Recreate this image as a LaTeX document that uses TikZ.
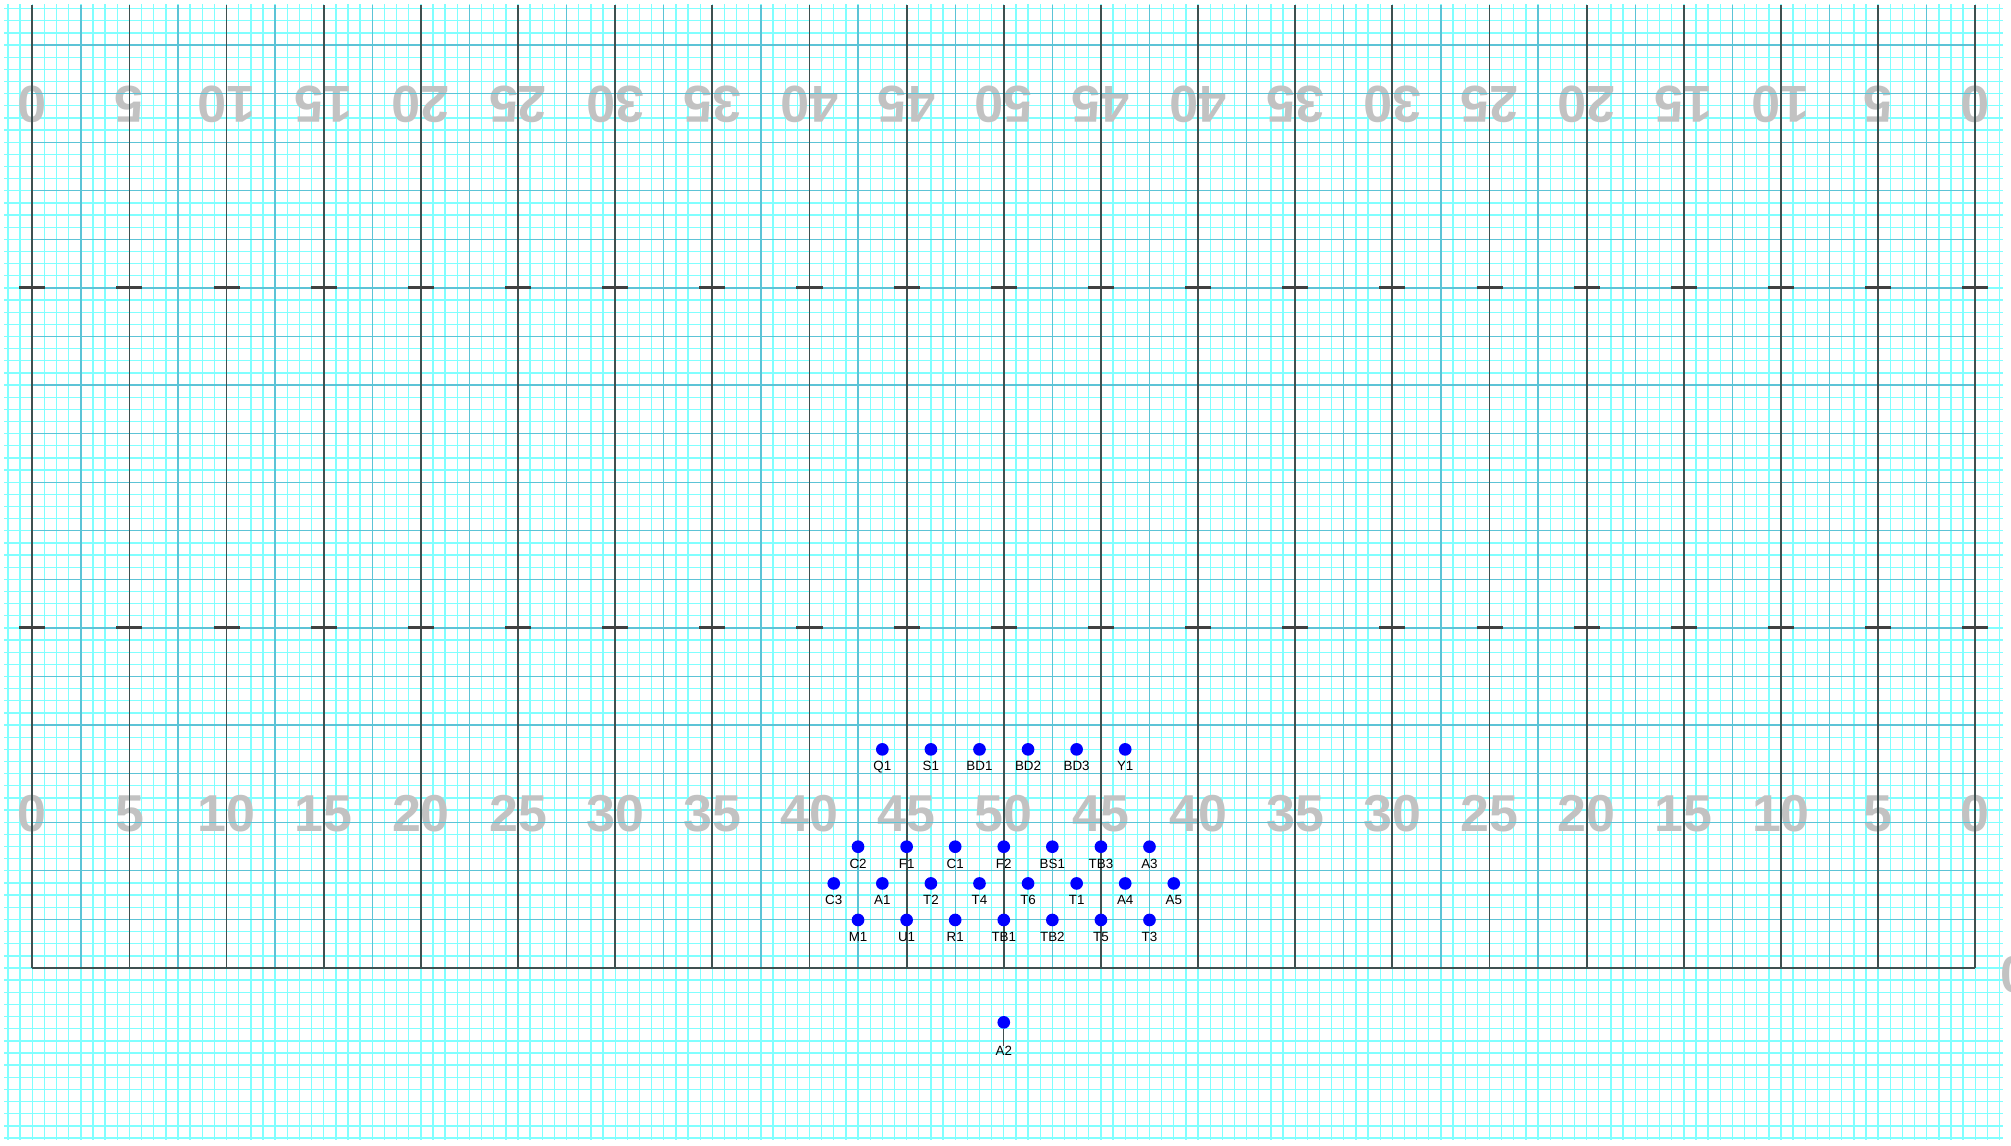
\documentclass[tikz,border=0pt]{standalone}
\usepackage{fontspec}
\setmainfont{Liberation Sans}
\usetikzlibrary{positioning}

\definecolor{gridcyan}{HTML}{80FFFF}
\definecolor{gridblue}{HTML}{5CC3D6}
\definecolor{yardgray}{HTML}{3F5050}
\definecolor{hashgray}{HTML}{404040}
\definecolor{numgray}{HTML}{C2C2C2}

\tikzset{
  fineline/.style={gridcyan, line width=0.5pt},
  midline/.style={gridblue, line width=0.5pt},
  yardline/.style={yardgray, line width=0.65pt},
  hashline/.style={hashgray, line width=1.1pt},
  pinline/.style={yardgray, line width=0.5pt},
  yardnum/.style={text=numgray, inner sep=0pt,
    font=\fontsize{19}{19}\selectfont\bfseries},
  player/.style={circle, fill=blue, inner sep=0pt, minimum size=1.63mm},
  tag/.style={inner sep=0pt, font=\fontsize{4.9}{5}\selectfont}
}

\begin{document}
\begin{tikzpicture}[x=0.25cm, y=0.25cm]
    \fill[white] (-1.662,-9.161) rectangle (101.84,49.82);
    \useasboundingbox (-1.662,-9.161) rectangle (101.84,49.82);

    % graph paper
    \draw[fineline, step=0.625] (-1.45,-8.85) grid (101.45,49.6);

    % yard numbers
    \foreach \x in {0,5,...,100} {
      \pgfmathtruncatemacro\n{50-abs(\x-50)}
      \node[yardnum] (bot\x) at (\x,7.93) {\n};
      \node[yardnum, rotate=180] (top\x) at (\x,44.47) {\n};
    }
    \node[yardnum, anchor=west] (edge0) at (101.25,-0.36) {0};

    % field lines
    \foreach \x in {2.5,7.5,...,97.5} \draw[midline] (\x,0) -- (\x,49.55);
    \foreach \y in {2.5,5,...,47.5} \draw[midline] (0,\y) -- (100,\y);
    \foreach \x in {0,5,...,100} \draw[yardline] (\x,0) -- (\x,49.55);
    \draw[yardline] (0,0) -- (100,0);
    \foreach \x in {0,5,...,100}
      \foreach \y in {17.5,35} \draw[hashline] (\x-0.67,\y) -- (\x+0.67,\y);

    % players
    \foreach \x/\n/\t in {43.75/q1/Q1, 46.25/s1/S1, 48.75/bd1/BD1,
        51.25/bd2/BD2, 53.75/bd3/BD3, 56.25/y1/Y1} {
      \node[player] (\n) at (\x,11.25) {};
      \node[tag, below=0.06cm of \n] (\n-t) {\t};
    }
    \foreach \x/\n/\t in {42.5/c2/C2, 45/f1/F1, 47.5/c1/C1, 50/f2/F2,
        52.5/bs1/BS1, 55/tb3/TB3, 57.5/a3/A3} {
      \node[player] (\n) at (\x,6.24) {};
      \node[tag, below=0.06cm of \n] (\n-t) {\t};
    }
    \foreach \x/\n/\t in {41.25/c3/C3, 43.75/a1/A1, 46.25/t2/T2,
        48.75/t4/T4, 51.25/t6/T6, 53.75/t1/T1, 56.25/a4/A4, 58.75/a5/A5} {
      \node[player] (\n) at (\x,4.35) {};
      \node[tag, below=0.06cm of \n] (\n-t) {\t};
    }
    \foreach \x/\n/\t in {42.5/m1/M1, 45/u1/U1, 47.5/r1/R1, 50/tb1/TB1,
        52.5/tb2/TB2, 55/t5/T5, 57.5/t3/T3} {
      \node[player] (\n) at (\x,2.47) {};
      \node[tag, below=0.06cm of \n] (\n-t) {\t};
    }
    \node[player] (a2) at (50,-2.8) {};
    \node[tag, below=0.21cm of a2] (a2-t) {A2};
    \draw[pinline] (a2) -- (a2-t.north);
\end{tikzpicture}
\end{document}
